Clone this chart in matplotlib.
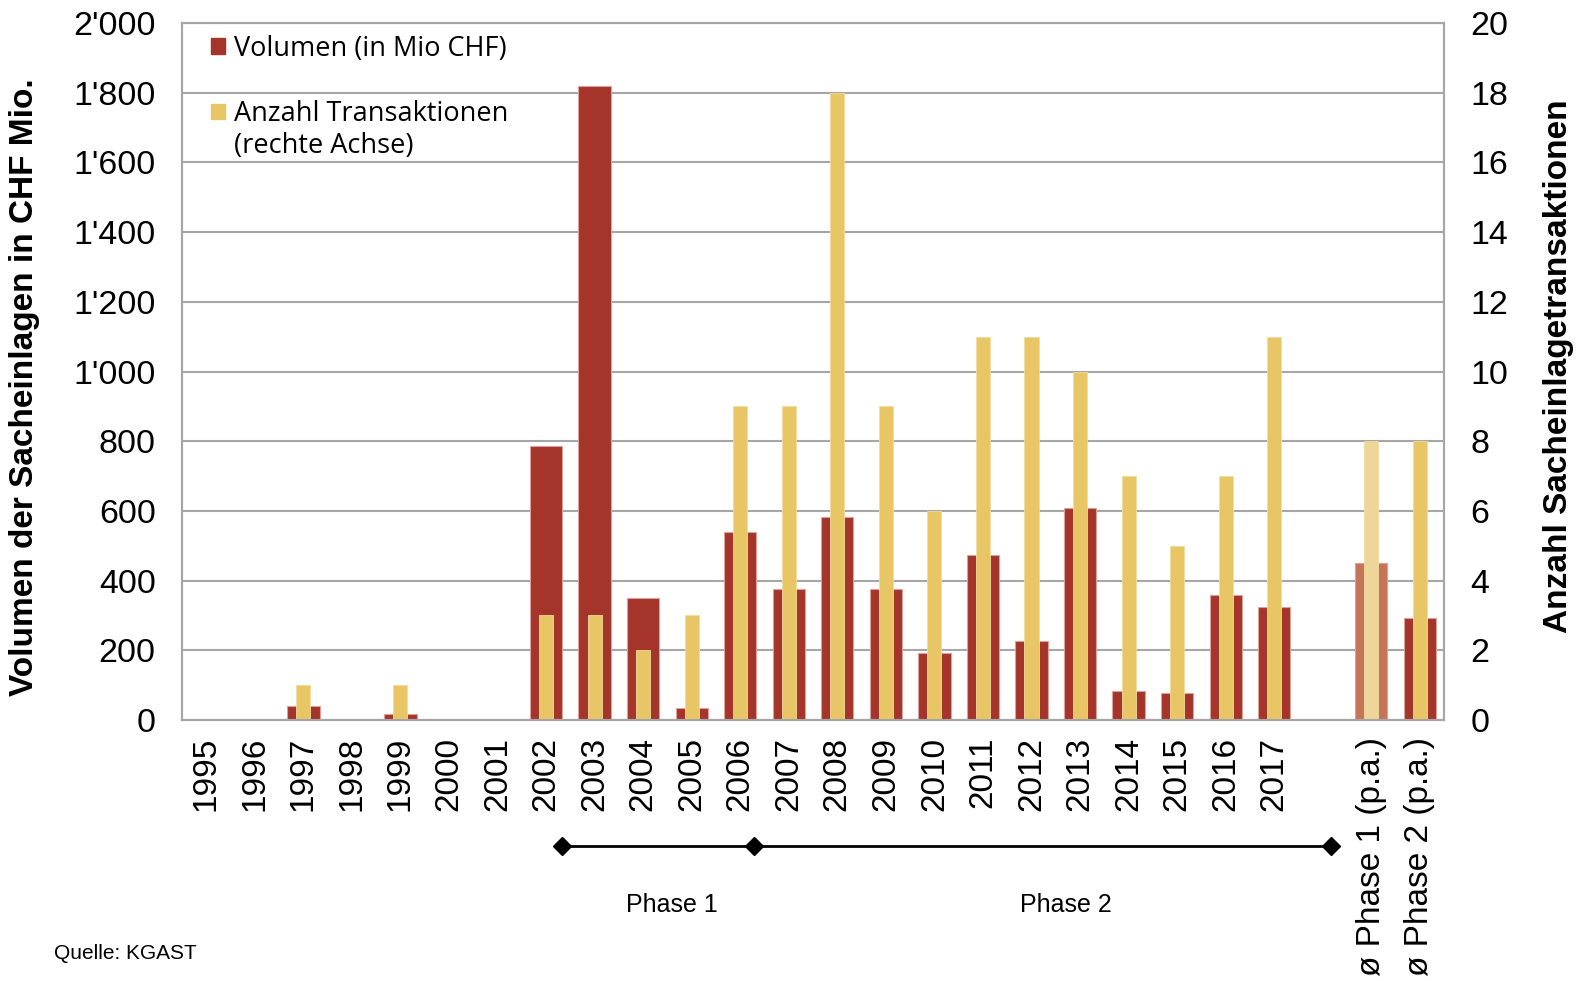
import matplotlib.pyplot as plt
import matplotlib.transforms as mtransforms
from matplotlib.patches import Patch
from matplotlib.ticker import FuncFormatter
import numpy as np

# Daten
kategorien = ['1995', '1996', '1997', '1998', '1999', '2000', '2001', '2002', '2003',
              '2004', '2005', '2006', '2007', '2008', '2009', '2010', '2011', '2012',
              '2013', '2014', '2015', '2016', '2017', '', 'ø Phase 1 (p.a.)', 'ø Phase 2 (p.a.)']
volumen = [0, 0, 40, 0, 18, 0, 0, 786, 1818, 349, 36, 540, 375, 583, 375, 193,
           473, 227, 608, 82, 77, 360, 325, 0, 451, 292]
anzahl = [0, 0, 1, 0, 1, 0, 0, 3, 3, 2, 3, 9, 9, 18, 9, 6,
          11, 11, 10, 7, 5, 7, 11, 0, 8, 8]

ROT = '#a5352a'
GELB = '#e8c565'
ROT_HELL = '#c57458'
GELB_HELL = '#eed69a'

plt.rcParams['font.family'] = ['Liberation Sans', 'DejaVu Sans']

fig = plt.figure(figsize=(15.8, 9.81), dpi=100)
ax = fig.add_axes([0.1152, 0.266, 0.7988, 0.7106])
ax2 = ax.twinx()

x = np.arange(len(kategorien))
farben_rot = [ROT_HELL if k.startswith('ø Phase 1') else ROT for k in kategorien]
farben_gelb = [GELB_HELL if k.startswith('ø Phase 1') else GELB for k in kategorien]

ax.bar(x, volumen, 0.665, color=farben_rot, edgecolor='#dba29b', linewidth=0.8, zorder=2)
ax2.bar(x, anzahl, 0.29, color=farben_gelb, edgecolor='#f2dc9e', linewidth=0.6, zorder=2)

ax.set_xlim(-0.5, len(kategorien) - 0.5)
ax.set_ylim(0, 2000)
ax2.set_ylim(0, 20)
ax.set_yticks(np.arange(0, 2001, 200))
ax2.set_yticks(np.arange(0, 21, 2))
ax.yaxis.set_major_formatter(FuncFormatter(lambda v, p: f"{int(v):,}".replace(',', "'")))

ax.set_axisbelow(True)
ax.grid(axis='y', color='#a6a6a6', linewidth=1.5)
for a in (ax, ax2):
    for s in a.spines.values():
        s.set_color('#a6a6a6')
        s.set_linewidth(1.5)

ax.set_xticks(x)
ax.set_xticklabels(kategorien, rotation=90, va='top', ha='center', fontsize=24)
ax.tick_params(axis='x', length=0, pad=12)
ax.tick_params(axis='y', length=0, labelsize=24.5, pad=19)
ax2.tick_params(axis='y', length=0, labelsize=24.5, pad=19)

fig.text(0.0158, 0.605, 'Volumen der Sacheinlagen in CHF Mio.', rotation=90,
         ha='center', va='center', fontsize=24, fontweight='bold',
         family=['Liberation Sans Narrow', 'Liberation Sans'])
fig.text(0.9867, 0.627, 'Anzahl Sacheinlagetransaktionen', rotation=90,
         ha='center', va='center', fontsize=24, fontweight='bold')

# Legende (zwei Teile, damit das Quadrat auf der ersten Zeile steht)
leg_font = {'family': ['Open Sans', 'DejaVu Sans'], 'size': 19.5}
leg1 = ax2.legend([Patch(color=ROT)], ['Volumen (in Mio CHF)'], loc='upper left',
                  bbox_to_anchor=(0.004, 1.018), frameon=False, handlelength=0.5,
                  handleheight=0.5, handletextpad=0.35, prop=leg_font)
ax2.add_artist(leg1)
ax2.legend([Patch(color=GELB), Patch(color='none')],
           ['Anzahl Transaktionen', '(rechte Achse)'], loc='upper left',
           bbox_to_anchor=(0.004, 0.924), frameon=False, handlelength=0.5,
           handleheight=0.5, handletextpad=0.35, labelspacing=0.15, prop=leg_font)

# Phasen
trans = mtransforms.blended_transform_factory(ax.transData, fig.transFigure)
ax.plot([7.33, 11.29, 23.16], [0.1376] * 3, color='black', linewidth=2,
        marker='D', markersize=9, transform=trans, clip_on=False)
fig.text(0.4253, 0.077, 'Phase 1', ha='center', va='center', fontsize=18,
         family=['Liberation Sans Narrow', 'Liberation Sans'])
fig.text(0.6747, 0.077, 'Phase 2', ha='center', va='center', fontsize=18,
         family=['Liberation Sans Narrow', 'Liberation Sans'])

fig.text(0.034, 0.028, 'Quelle: KGAST', ha='left', va='center', fontsize=15)

plt.savefig('out.png', format='png', dpi=100)
